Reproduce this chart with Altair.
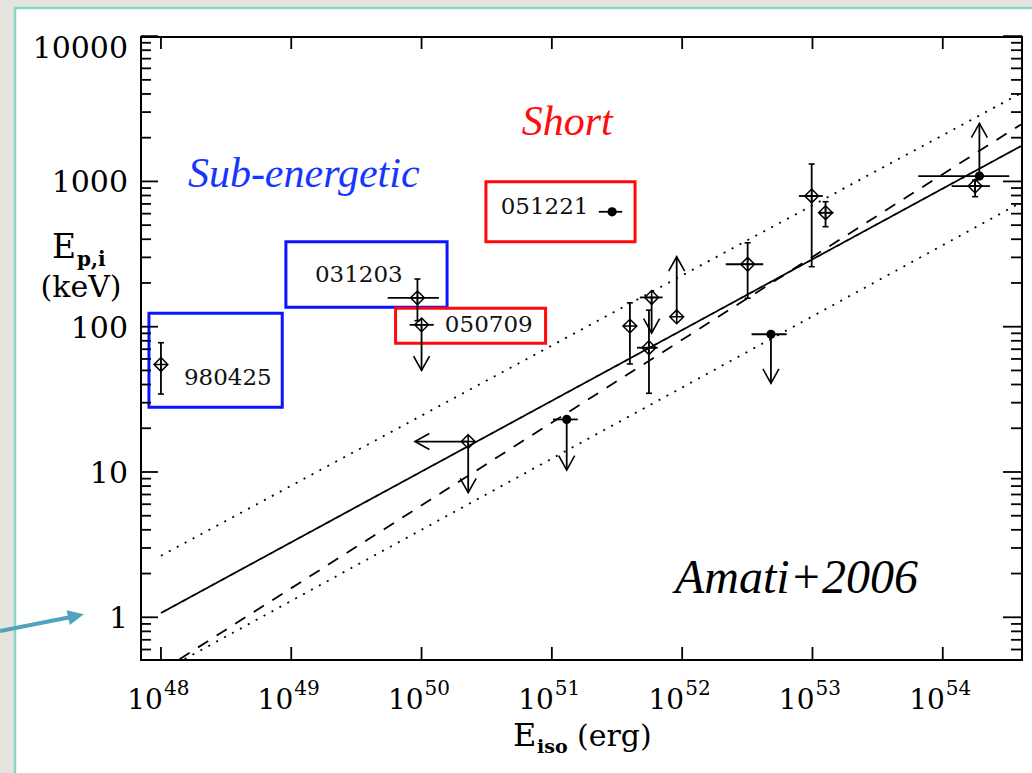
import altair as alt
import pandas as pd

W, H = 881, 623
SERIF = "DejaVu Serif"
TIMES = "Liberation Serif"

# ---- bursts: isotropic energy (erg) and intrinsic peak energy (keV) ----
grb_E = [1.0e48, 9.3e49, 1.0e50, 2.9e51, 2.28e50, 1.30e51, 3.97e51, 5.83e51,
         5.56e51, 9.08e51, 3.18e52, 4.80e52, 9.86e52, 1.26e53, 1.91e54, 1.77e54]
grb_Ep = [55, 158, 103, 618, 16.2, 23.0, 101, 159,
          71.7, 117, 269, 88.7, 794, 609, 1089, 929]
grb_filled = [False, False, False, True, False, True, False, False,
              False, False, False, True, False, False, True, False]

# vertical (Ep) error bars
v_err_E = [1.0e48, 9.3e49, 3.97e51, 5.56e51, 3.18e52, 9.86e52, 1.26e53, 1.77e54]
v_err_lo = [34.4, 110, 55.4, 34.8, 157, 259, 488, 785]
v_err_hi = [77.6, 213, 146, 130, 378, 1318, 725, 1023]

# horizontal (Eiso) error bars
h_err_Ep = [158, 103, 618, 23.0, 159, 71.7, 269, 88.7, 794, 609, 1089, 929]
h_err_lo = [5.5e49, 8.1e49, 2.29e51, 1.02e51, 4.74e51, 4.5e51, 2.16e52, 3.41e52,
            7.87e52, 1.12e53, 6.49e53, 1.17e54]
h_err_hi = [1.36e50, 1.24e50, 3.47e51, 1.58e51, 7.08e51, 6.5e51, 4.19e52, 6.34e52,
            1.20e53, 1.45e53, 3.24e54, 2.30e54]

# upper / lower limits drawn as arrows
lim_E0 = [1.0e50, 2.28e50, 2.28e50, 1.30e51, 5.83e51, 9.08e51, 4.80e52, 1.91e54]
lim_Ep0 = [103, 16.2, 16.2, 23.0, 159, 117, 88.7, 1089]
lim_E1 = [1.0e50, 8.9e49, 2.28e50, 1.30e51, 5.83e51, 9.08e51, 4.80e52, 1.91e54]
lim_Ep1 = [50, 16.2, 7.2, 10.3, 90.5, 303, 40.8, 2512]
lim_dir = ["down", "left", "down", "down", "down", "up", "down", "up"]

# Ep,i - Eiso relation: best fit, +-2 sigma band, and alternative fit
rel_id = ["fit", "fit", "hi", "hi", "lo", "lo", "alt", "alt"]
rel_style = ["solid", "solid", "dotted", "dotted", "dotted", "dotted", "dashed", "dashed"]
rel_E = [1.0e48, 3.98e54, 1.0e48, 3.98e54, 1.0e48, 3.98e54, 1.0e48, 3.98e54]
rel_Ep = [1.07, 1750, 2.65, 4050, 0.42, 716, 0.427, 2466]

# outlier boxes
box_group = ["Sub-energetic", "Sub-energetic", "Short", "Short"]
box_E_lo = [8.09e47, 9.10e48, 6.32e49, 3.12e50]
box_E_hi = [8.53e48, 1.57e50, 8.95e50, 4.35e51]
box_Ep_lo = [27.9, 136, 76.9, 385]
box_Ep_hi = [124, 385, 134, 995]

# burst names inside the boxes
lbl_text = ["980425", "031203", "050709", "051221"]
lbl_E = [1.50e48, 1.52e49, 1.51e50, 4.05e50]
lbl_Ep = [44.4, 227, 103, 670]

# group captions
ann_text = ["Sub-energetic", "Short", "Amati+2006"]
ann_E = [1.61e48, 5.87e50, 8.81e51]
ann_Ep = [915, 2086, 1.46]

# axis ticks
x_exp = [48, 49, 50, 51, 52, 53, 54]
y_major = [1, 10, 100, 1000, 10000]

X_DOM = [10 ** 47.847, 10 ** 54.608]
Y_DOM = [10 ** -0.294, 10 ** 3.994]
xs = alt.Scale(type="log", domain=X_DOM, nice=False)
ys = alt.Scale(type="log", domain=Y_DOM, nice=False)


def X(f):
    return alt.X(f, type="quantitative", scale=xs, axis=None)


def Y(f):
    return alt.Y(f, type="quantitative", scale=ys, axis=None)


one = pd.DataFrame({"k": [0]})
pts = pd.DataFrame({"E": grb_E, "Ep": grb_Ep, "filled": grb_filled})
verr = pd.DataFrame({"E": v_err_E, "lo": v_err_lo, "hi": v_err_hi})
caps = pd.DataFrame({"E": v_err_E * 2, "Ep": v_err_lo + v_err_hi})
herr = pd.DataFrame({"Ep": h_err_Ep, "lo": h_err_lo, "hi": h_err_hi})
lims = pd.DataFrame({"E0": lim_E0, "Ep0": lim_Ep0, "E1": lim_E1, "Ep1": lim_Ep1, "dir": lim_dir})
rel = pd.DataFrame({"id": rel_id, "style": rel_style, "E": rel_E, "Ep": rel_Ep})
boxes = pd.DataFrame({"g": box_group, "x0": box_E_lo, "x1": box_E_hi, "y0": box_Ep_lo, "y1": box_Ep_hi})
lbls = pd.DataFrame({"t": lbl_text, "E": lbl_E, "Ep": lbl_Ep})
anns = pd.DataFrame({"t": ann_text, "E": ann_E, "Ep": ann_Ep})
xt = pd.DataFrame({"v": [10.0 ** e for e in x_exp], "exp": [str(e) for e in x_exp]})
yt = pd.DataFrame({"v": y_major, "lab": [str(v) for v in y_major]})
y_minor = [k * 10.0 ** d for d in range(-1, 4) for k in range(2, 10)]
y_minor = [v for v in y_minor if Y_DOM[0] <= v <= Y_DOM[1]]
ytm = pd.DataFrame({"v": y_minor})

DIAMOND = "M 0 -1 L 1 0 L 0 1 L -1 0 Z M -1 0 L 1 0 M 0 -1 L 0 1"
CAP = "M -1 0 L 1 0"
HEADS = {"down": "M -1 -1.8 L 0 0 L 1 -1.8",
         "up": "M -1 1.8 L 0 0 L 1 1.8",
         "left": "M 1.8 -1 L 0 0 L 1.8 1"}
TEAL = "#4fa3bd"

# slide panel and pointer arrow
panel = alt.Chart(one).mark_rect(fill="white", stroke="#88d6c7", strokeWidth=2.5).encode(
    x=alt.value(-126), x2=alt.value(900), y=alt.value(-29), y2=alt.value(745))
shaft = alt.Chart(one).mark_rule(color=TEAL, strokeWidth=4).encode(
    x=alt.value(-141), x2=alt.value(-70), y=alt.value(594), y2=alt.value(580))
head = alt.Chart(one).mark_point(shape="M -1 -0.95 L 1 0 L -1 0.95 Z", filled=True, color=TEAL,
                                 size=256, angle=348, opacity=1).encode(
    x=alt.value(-65), y=alt.value(579))

# relation lines
lines = alt.Chart(rel).mark_line(clip=True, color="black", strokeWidth=1.8).encode(
    x=X("E"), y=Y("Ep"), detail="id:N",
    strokeDash=alt.StrokeDash("style:N", legend=None, scale=alt.Scale(
        domain=["solid", "dotted", "dashed"], range=[[1, 0], [2, 7], [12, 10]])))

# coloured boxes
box = alt.Chart(boxes).mark_rect(filled=False, strokeWidth=3).encode(
    x=X("x0"), x2="x1", y=Y("y0"), y2="y1",
    stroke=alt.Stroke("g:N", legend=None, scale=alt.Scale(
        domain=["Sub-energetic", "Short"], range=["#0a14ff", "#ff0a0a"])))

# error bars
vbar = alt.Chart(verr).mark_rule(color="black", strokeWidth=1.8).encode(x=X("E"), y=Y("lo"), y2="hi")
vcap = alt.Chart(caps).mark_point(shape=CAP, filled=False, color="black", strokeWidth=1.6,
                                  size=36, opacity=1).encode(x=X("E"), y=Y("Ep"))
hbar = alt.Chart(herr).mark_rule(color="black", strokeWidth=1.8).encode(x=X("lo"), x2="hi", y=Y("Ep"))

# limit arrows
lshaft = alt.Chart(lims).mark_rule(color="black", strokeWidth=1.8).encode(
    x=X("E0"), x2="E1", y=Y("Ep0"), y2="Ep1")
lhead = alt.Chart(lims).mark_point(filled=False, color="black", strokeWidth=1.6, size=256,
                                   opacity=1).encode(
    x=X("E1"), y=Y("Ep1"),
    shape=alt.Shape("dir:N", legend=None, scale=alt.Scale(
        domain=list(HEADS.keys()), range=list(HEADS.values()))))

# markers
open_pts = alt.Chart(pts).transform_filter("!datum.filled").mark_point(
    shape=DIAMOND, filled=False, color="black", strokeWidth=1.5, size=190, opacity=1).encode(
    x=X("E"), y=Y("Ep"))
full_pts = alt.Chart(pts).transform_filter("datum.filled").mark_point(
    shape="circle", filled=True, color="black", size=85, opacity=1).encode(
    x=X("E"), y=Y("Ep"))

# burst names
names = alt.Chart(lbls).mark_text(align="left", baseline="middle", font=SERIF, fontSize=23,
                                  color="#111").encode(x=X("E"), y=Y("Ep"), text="t:N")


def caption(txt, size, color):
    return alt.Chart(anns).transform_filter(alt.datum.t == txt).mark_text(
        align="left", baseline="alphabetic", font=TIMES, fontStyle="italic",
        fontSize=size, color=color).encode(x=X("E"), y=Y("Ep"), text="t:N")


cap_sub = caption("Sub-energetic", 42, "#1636ff")
cap_short = caption("Short", 42, "#ff0d0d")
cap_amati = caption("Amati+2006", 48, "black")

# ticks drawn inside the frame on all sides
tk = dict(color="black", strokeWidth=1.8)
xtick_b = alt.Chart(xt).mark_rule(**tk).encode(x=X("v"), y=alt.value(H), y2=alt.value(H - 13))
xtick_t = alt.Chart(xt).mark_rule(**tk).encode(x=X("v"), y=alt.value(0), y2=alt.value(12))
ytick_l = alt.Chart(yt).mark_rule(**tk).encode(y=Y("v"), x=alt.value(0), x2=alt.value(17))
ytick_r = alt.Chart(yt).mark_rule(**tk).encode(y=Y("v"), x=alt.value(W), x2=alt.value(W - 19))
ymin_l = alt.Chart(ytm).mark_rule(**tk).encode(y=Y("v"), x=alt.value(0), x2=alt.value(10))
ymin_r = alt.Chart(ytm).mark_rule(**tk).encode(y=Y("v"), x=alt.value(W), x2=alt.value(W - 11))

# tick labels
ylab = alt.Chart(yt).transform_filter("datum.v < 5000").mark_text(
    align="right", baseline="middle", font=SERIF, fontSize=30, dy=2).encode(
    x=alt.value(-13), y=Y("v"), text="lab:N")
ylab_top = alt.Chart(yt).transform_filter("datum.v > 5000").mark_text(
    align="right", baseline="middle", font=SERIF, fontSize=30, dy=13).encode(
    x=alt.value(-13), y=Y("v"), text="lab:N")
xlab10 = alt.Chart(xt).mark_text(align="right", baseline="alphabetic", font=SERIF,
                                 fontSize=28, dx=2).encode(
    x=X("v"), y=alt.value(H + 49), text=alt.value("10"))
xlabexp = alt.Chart(xt).mark_text(align="left", baseline="alphabetic", font=SERIF,
                                  fontSize=20, dx=3).encode(
    x=X("v"), y=alt.value(H + 35), text="exp:N")

# axis titles
ttl = dict(font=SERIF, baseline="alphabetic", color="black")
yt_E = alt.Chart(one).mark_text(align="left", fontSize=33, **ttl).encode(
    x=alt.value(-89), y=alt.value(221), text=alt.value("E"))
yt_sub = alt.Chart(one).mark_text(align="left", fontSize=20, fontWeight="bold", **ttl).encode(
    x=alt.value(-64), y=alt.value(229), text=alt.value("p,i"))
yt_unit = alt.Chart(one).mark_text(align="center", fontSize=30, **ttl).encode(
    x=alt.value(-60), y=alt.value(260), text=alt.value("(keV)"))
xt_E = alt.Chart(one).mark_text(align="left", fontSize=32, **ttl).encode(
    x=alt.value(372), y=alt.value(709), text=alt.value("E"))
xt_sub = alt.Chart(one).mark_text(align="left", fontSize=19, fontWeight="bold", **ttl).encode(
    x=alt.value(396), y=alt.value(716), text=alt.value("iso"))
xt_unit = alt.Chart(one).mark_text(align="left", fontSize=30, **ttl).encode(
    x=alt.value(436), y=alt.value(709), text=alt.value("(erg)"))

frame = alt.Chart(one).mark_rect(filled=False, stroke="black", strokeWidth=2).encode(
    x=alt.value(0), x2=alt.value(W), y=alt.value(0), y2=alt.value(H))

chart = alt.layer(
    panel, shaft, head,
    lines, box, vbar, vcap, hbar, lshaft, lhead, open_pts, full_pts,
    names, cap_sub, cap_short, cap_amati,
    xtick_b, xtick_t, ytick_l, ytick_r, ymin_l, ymin_r,
    ylab, ylab_top, xlab10, xlabexp,
    yt_E, yt_sub, yt_unit, xt_E, xt_sub, xt_unit,
    frame,
).properties(
    width=W, height=H, autosize="none",
    padding={"left": 141, "top": 37, "right": 10, "bottom": 113},
    background="#e6e4df",
).configure_view(strokeWidth=0)

chart.save("out.html", embed_options={"renderer": "svg", "actions": False})
